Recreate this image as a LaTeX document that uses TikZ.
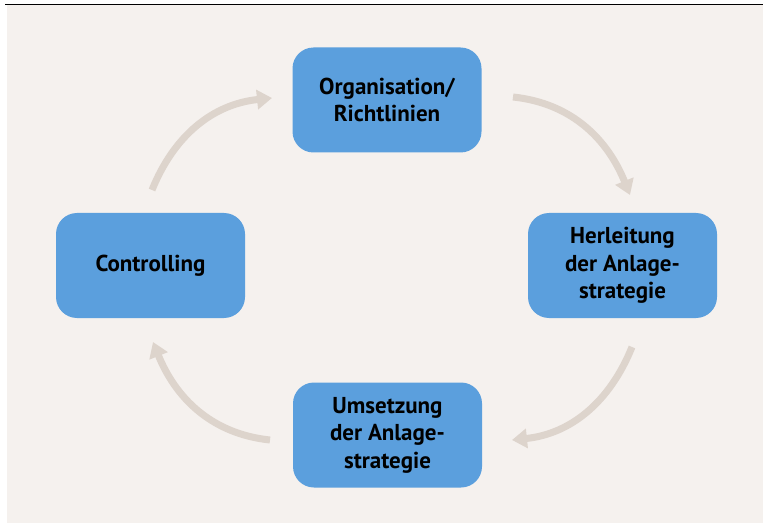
\documentclass[tikz,border=0pt]{standalone}
\usepackage{fontspec}
\setmainfont{PT Sans}
\usepackage{xcolor}
\definecolor{boxblue}{HTML}{5B9FDD}
\definecolor{paper}{HTML}{F5F1EE}
\definecolor{cyclearrow}{HTML}{DDD4CC}
\usetikzlibrary{arrows.meta, positioning}

\begin{document}
\begin{tikzpicture}[x=1pt, y=1pt,
		stage/.style={fill=boxblue, rounded corners=21pt, minimum width=189pt, minimum height=105pt,
			inner sep=0pt, align=center, text=black, font=\fontsize{23}{27.5}\selectfont\bfseries},
		cycle/.style={draw=cyclearrow, line width=7pt, -{Triangle[width=19pt,length=15pt]}}]
	\useasboundingbox (0,0) rectangle (763,523);
	% Background
	\fill[paper] (7,0) rectangle (763,518.5);
	\draw[line width=1.6pt] (5,518.5) -- (763,518.5);
	
	% Stages
	\node[stage] (org) at (387,423) {Organisation/\\Richtlinien};
	\node[stage] (herl) at (622.5,257.5) {Herleitung\\der Anlage-\\strategie};
	\node[stage] (ums) at (387.5,88) {Umsetzung\\der Anlage-\\strategie};
	\node[stage] (ctrl) at (150.5,257.5) {Controlling};
	
	% Arrow ends
	\coordinate (a1) at (513,426);
	\coordinate (b1) at (630,328);
	\coordinate (a2) at (632,176);
	\coordinate (b2) at (512,83);
	\coordinate (a3) at (270,83);
	\coordinate (b3) at (153,181);
	\coordinate (a4) at (152,333);
	\coordinate (b4) at (272,425);
	
	\draw[cycle] (a1) to[out=-6, in=112] (b1);
	\draw[cycle] (a2) to[out=-112, in=6] (b2);
	\draw[cycle] (a3) to[out=174, in=-68] (b3);
	\draw[cycle] (a4) to[out=68, in=-174] (b4);
\end{tikzpicture}
\end{document}
